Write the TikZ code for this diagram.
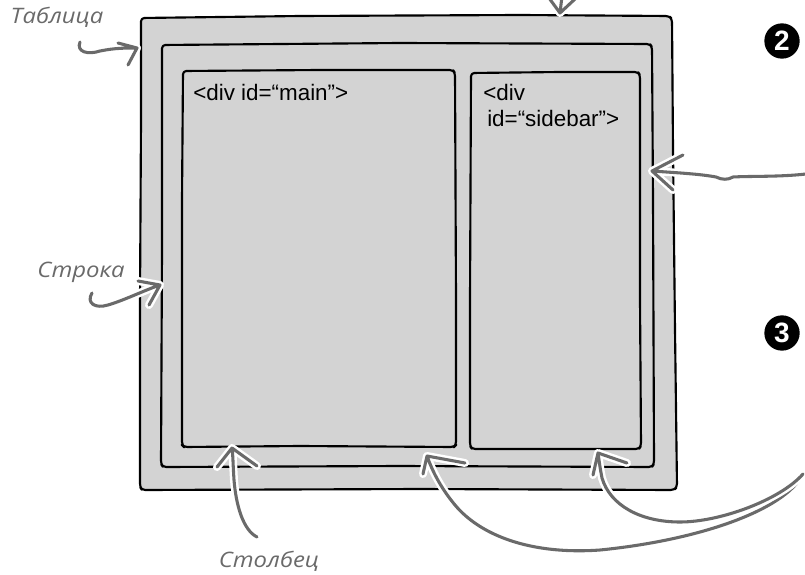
\documentclass[tikz,border=0pt]{standalone}
\usepackage{fontspec}
\newfontfamily\arialf{Liberation Sans}
\newfontfamily\handf{Open Sans}
\definecolor{boxgray}{HTML}{D3D3D3}
\definecolor{pen}{HTML}{6A6A6A}
\begin{document}
\begin{tikzpicture}[x=0.75pt,y=-0.75pt,
  boxshape/.style={draw=black, fill=boxgray, line width=1.6pt, rounded corners=2.5pt, line join=round},
  codetext/.style={inner sep=0pt, font=\arialf\fontsize{16.8}{19.5}\selectfont, text=black},
  handtext/.style={inner sep=0pt, font=\handf\itshape\fontsize{16}{18}\selectfont, text=pen},
  badge/.style={circle, fill=black, text=white, minimum size=26.5pt, inner sep=0pt, font=\arialf\bfseries\fontsize{21}{22}\selectfont},
  penline/.style={draw=pen, line width=2.3pt, line cap=round, line join=round,
     preaction={draw=white, line width=6pt, line cap=round, line join=round}}
]
\useasboundingbox (0,0) rectangle (805,574);

% boxes
\path[boxshape] (141,18) -- (300,16) -- (520,15) -- (669,16) -- (672,19) -- (673,150) -- (675,330) -- (677,487) -- (674,490) -- (420,489) -- (142,490) -- (140,487) -- (140,300) -- (141,120) -- cycle;
\path[boxshape] (162,45) -- (400,43) -- (650,44) -- (652,47) -- (653,200) -- (654,464) -- (652,467) -- (400,466) -- (163,467) -- (161,464) -- (162,250) -- cycle;
\path[boxshape] (183,71) -- (320,70) -- (453,70) -- (455,73) -- (456,300) -- (456,445) -- (454,447) -- (300,446) -- (184,447) -- (182,445) -- (182,200) -- cycle;
\path[boxshape] (471,73) -- (560,72) -- (638,72) -- (640,75) -- (640,300) -- (641,446) -- (639,449) -- (472,449) -- (470,446) -- (470,300) -- cycle;

% box texts
\node[codetext, anchor=base west] (maintxt) at (193,101) {<div id=“main”>};
\node[codetext, anchor=base west] (sidetxtA) at (483,101) {<div};
\node[codetext, anchor=base west] (sidetxtB) at (487,127) {id=“sidebar”>};

% labels
\node[handtext] (tabl) at (57,17) {\scalebox{1.12}[1]{Таблица}};
\node[handtext] (strk) at (81,272) {\scalebox{1.12}[1]{Строка}};
\node[handtext] (stlb) at (269,561) {\scalebox{1.12}[1]{Столбец}};

% badges
\node[badge] (nTwo) at (782,41) {2};
\node[badge] (nThree) at (782,333) {3};

% coordinates
\coordinate (tabTail) at (80,42);
\coordinate (tabTip) at (137,48);
\coordinate (topTip) at (560,13);
\coordinate (topTail) at (562,-4);
\coordinate (strTail) at (92,293);
\coordinate (strTip) at (160,285);
\coordinate (twoTail) at (806,174);
\coordinate (twoTip) at (652,171);
\coordinate (colTail) at (257,537);
\coordinate (colTip) at (232,448);
\coordinate (thrTail) at (803,474);
\coordinate (longTip) at (427,456);
\coordinate (shortTip) at (598,453);

% arrows
\draw[penline] (tabTail) .. controls (76,52) and (88,55) .. (100,51) .. controls (115,48) and (125,48) .. (tabTip)
   (tabTip) ++(-19,-5) -- (tabTip) -- ++(-9,17);
\draw[penline] (topTail) -- (topTip) ++(-11,-15) -- (topTip) -- ++(15,-14);
\draw[penline] (strTail) .. controls (86,303) and (95,309) .. (108,305) .. controls (125,300) and (145,290) .. (strTip)
   (strTip) ++(-22,-4) -- (strTip) -- ++(-11,20);
\draw[penline] (twoTail) .. controls (780,177) and (750,176) .. (733,177) .. controls (728,180) and (722,180) .. (716,177) .. controls (700,174) and (680,173) .. (twoTip)
   (twoTip) ++(31,-16) -- (twoTip) -- ++(21,19);
\draw[penline] (colTail) .. controls (243,530) and (236,505) .. (234,480) .. controls (233,465) and (233,455) .. (colTip)
   (colTip) ++(-15,19) -- (colTip) -- ++(25,18);
\draw[penline] (thrTail) .. controls (785,510) and (700,540) .. (600,550) .. controls (530,555) and (480,535) .. (455,505) .. controls (440,487) and (432,470) .. (longTip)
   (longTip) ++(-4,18) -- (longTip) -- ++(38,7);
\draw[penline] (thrTail) .. controls (780,500) and (720,522) .. (680,522) .. controls (640,522) and (610,505) .. (602,478) .. controls (600,468) and (599,460) .. (shortTip)
   (shortTip) ++(-5,22) -- (shortTip) -- ++(29,10);
\end{tikzpicture}
\end{document}
